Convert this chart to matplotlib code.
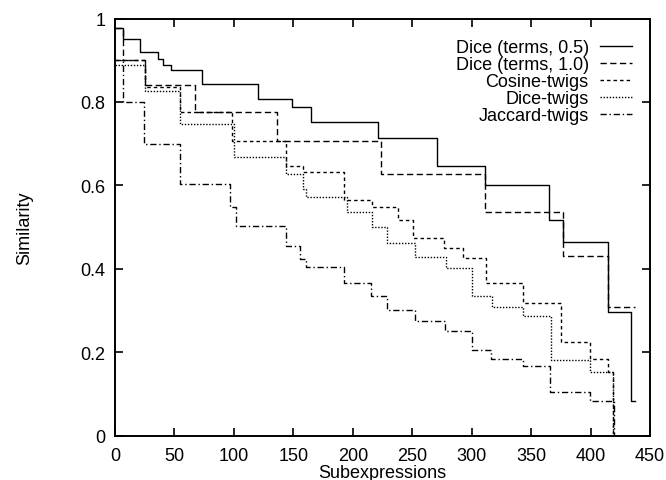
import matplotlib
matplotlib.use("Agg")
import matplotlib.pyplot as plt

plt.rcParams['font.family'] = ['Liberation Sans', 'DejaVu Sans']

# Step series: x = start of each step, y = level; last x = end of the curve
dice05_x = [0, 7, 21, 36, 40.6, 47, 73, 120.5, 149, 165, 221, 271, 311, 365, 377, 415, 433.7, 437]
dice05_y = [0.977, 0.951, 0.92, 0.903, 0.888, 0.876, 0.843, 0.807, 0.789, 0.751, 0.713, 0.647, 0.601, 0.518, 0.465, 0.296, 0.084, 0.084]

dice10_x = [0, 7, 25, 67, 136, 224, 311, 377, 415, 437]
dice10_y = [0.977, 0.9, 0.84, 0.775, 0.707, 0.627, 0.535, 0.43, 0.308, 0.308]

cos_x = [0, 25, 55, 98, 144, 158, 193, 216, 238, 251, 277, 293, 312, 343, 375, 399.5, 415, 419, 419]
cos_y = [0.9, 0.835, 0.775, 0.707, 0.647, 0.631, 0.566, 0.547, 0.517, 0.474, 0.449, 0.427, 0.365, 0.318, 0.225, 0.184, 0.152, 0.0, 0.0]

dtw_x = [0, 25, 55, 100, 144, 158, 161, 195, 216, 229, 252, 278, 300, 317, 343, 367, 399.5, 416, 419, 419]
dtw_y = [0.889, 0.826, 0.747, 0.668, 0.627, 0.591, 0.572, 0.535, 0.5, 0.462, 0.428, 0.402, 0.336, 0.308, 0.286, 0.182, 0.153, 0.153, 0.0, 0.0]

jac_x = [0, 7, 24, 55, 97, 102, 144, 156, 161, 193, 215, 229, 252, 277.5, 300, 316, 343, 366, 399.5, 418, 419.5, 419.5]
jac_y = [0.9, 0.8, 0.7, 0.603, 0.547, 0.502, 0.455, 0.424, 0.404, 0.365, 0.336, 0.302, 0.274, 0.252, 0.205, 0.184, 0.168, 0.104, 0.084, 0.084, 0.0, 0.0]

labels = ["Dice (terms, 0.5)", "Dice (terms, 1.0)", "Cosine-twigs", "Dice-twigs", "Jaccard-twigs"]
x_ticks = [0, 50, 100, 150, 200, 250, 300, 350, 400, 450]
y_ticks = [0, 0.2, 0.4, 0.6, 0.8, 1.0]
y_tick_labels = ["0", "0.2", "0.4", "0.6", "0.8", "1"]

fig = plt.figure(figsize=(6.66, 4.81), dpi=100)
ax = fig.add_axes([115/666, 1 - 436.7/481, (650-115)/666, (436.7-19.5)/481])

series = [(dice05_x, dice05_y), (dice10_x, dice10_y), (cos_x, cos_y), (dtw_x, dtw_y), (jac_x, jac_y)]
styles = [
    dict(linestyle='-'),
    dict(linestyle=(0, (4.5, 2.5))),
    dict(linestyle=(0, (2.5, 2.2))),
    dict(linestyle=(0, (1, 1.2))),
    dict(linestyle=(0, (4.5, 2, 1, 2))),
]
for (xs, ys), st, lab in zip(series, styles, labels):
    ax.step(xs, ys, where='post', color='black', linewidth=1.0, label=lab, **st)

ax.set_xlim(0, 450)
ax.set_ylim(0, 1)
ax.set_xticks(x_ticks)
ax.set_xticklabels([str(t) for t in x_ticks])
ax.set_yticks(y_ticks)
ax.set_yticklabels(y_tick_labels)
ax.tick_params(direction='in', length=6, width=1.2, top=True, right=True, labelsize=13, pad=7)
ax.tick_params(axis='x', pad=8)
for s in ax.spines.values():
    s.set_linewidth(1.4)

ax.set_xlabel("Subexpressions", fontsize=13, labelpad=0)
ax.set_ylabel("Similarity", fontsize=13, labelpad=34)

leg = ax.legend(loc='upper right', bbox_to_anchor=(632/666, 1 - 40/481), bbox_transform=fig.transFigure,
                frameon=False, fontsize=13, markerfirst=False, handlelength=1.8, handletextpad=0.6,
                labelspacing=0.0, borderpad=0, borderaxespad=0)

fig.savefig("out.png", dpi=100)
